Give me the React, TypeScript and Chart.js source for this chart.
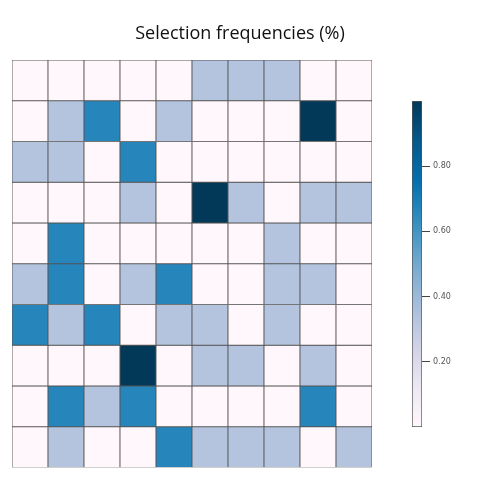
import React, { useEffect, useRef } from "react";
import { Chart, registerables } from "chart.js";

Chart.register(...registerables);

const columns = ["V1", "V2", "V3", "V4", "V5", "V6", "V7", "V8", "V9", "V10"];
const rowLabels = ["S1", "S2", "S3", "S4", "S5", "S6", "S7", "S8", "S9", "S10"];

// Selection frequencies, rows top to bottom
const row1 = [0, 0, 0, 0, 0, 1 / 3, 1 / 3, 1 / 3, 0, 0];
const row2 = [0, 1 / 3, 2 / 3, 0, 1 / 3, 0, 0, 0, 1, 0];
const row3 = [1 / 3, 1 / 3, 0, 2 / 3, 0, 0, 0, 0, 0, 0];
const row4 = [0, 0, 0, 1 / 3, 0, 1, 1 / 3, 0, 1 / 3, 1 / 3];
const row5 = [0, 2 / 3, 0, 0, 0, 0, 0, 1 / 3, 0, 0];
const row6 = [1 / 3, 2 / 3, 0, 1 / 3, 2 / 3, 0, 0, 1 / 3, 1 / 3, 0];
const row7 = [2 / 3, 1 / 3, 2 / 3, 0, 1 / 3, 1 / 3, 0, 1 / 3, 0, 0];
const row8 = [0, 0, 0, 1, 0, 1 / 3, 1 / 3, 0, 1 / 3, 0];
const row9 = [0, 2 / 3, 1 / 3, 2 / 3, 0, 0, 0, 0, 2 / 3, 0];
const row10 = [0, 1 / 3, 0, 0, 2 / 3, 1 / 3, 1 / 3, 1 / 3, 0, 1 / 3];
const rows = [row1, row2, row3, row4, row5, row6, row7, row8, row9, row10];

const colorbarTicks = [0.2, 0.4, 0.6, 0.8];
const colorbarRange = [0, 1];

const PuBu = [
  "#fff7fb", "#ece7f2", "#d0d1e6", "#a6bddb", "#74a9cf",
  "#3690c0", "#0570b0", "#045a8d", "#023858",
];

function hexToRgb(h: string) {
  const n = parseInt(h.slice(1), 16);
  return [(n >> 16) & 255, (n >> 8) & 255, n & 255];
}

function pubu(v: number) {
  const t = Math.max(0, Math.min(1, v)) * (PuBu.length - 1);
  const i = Math.min(Math.floor(t), PuBu.length - 2);
  const f = t - i;
  const a = hexToRgb(PuBu[i]);
  const b = hexToRgb(PuBu[i + 1]);
  const c = a.map((x, k) => Math.round(x + (b[k] - x) * f));
  return `rgb(${c[0]},${c[1]},${c[2]})`;
}

export default function App() {
  const mainRef = useRef<HTMLCanvasElement>(null);
  const barRef = useRef<HTMLCanvasElement>(null);

  useEffect(() => {
    const n = rows.length;
    const datasets = rows.map((r, i) => ({
      label: rowLabels[i],
      data: r.map(() => [n - 1 - i, n - i]),
      backgroundColor: r.map((v) => pubu(v)),
      borderColor: "#555",
      borderWidth: 0.8,
      borderSkipped: false as const,
      barPercentage: 1,
      categoryPercentage: 1,
      grouped: false,
    }));

    const hidden = {
      display: true,
      grid: { display: false },
      border: { display: false },
      ticks: { display: false },
    };

    const main = new Chart(mainRef.current!, {
      type: "bar",
      data: { labels: columns, datasets: datasets as any },
      options: {
        animation: false,
        responsive: false,
        devicePixelRatio: 1,
        layout: { padding: 0 },
        plugins: {
          legend: { display: false },
          tooltip: { enabled: false },
          title: {
            display: true,
            text: "Selection frequencies (%)",
            color: "#111",
            font: { family: "Open Sans", size: 18, weight: "normal" },
            padding: { top: 23, bottom: 15.4 },
          },
        },
        scales: {
          x: { ...hidden, type: "category", afterFit: (s: any) => { s.height = 12.5; } },
          y: {
            ...hidden,
            type: "linear",
            min: 0,
            max: rows.length,
            position: "left",
            afterFit: (s: any) => { s.width = 12; },
          },
          yr: {
            ...hidden,
            type: "linear",
            position: "right",
            afterFit: (s: any) => { s.width = 108; },
          },
        } as any,
      },
    });

    const bar = new Chart(barRef.current!, {
      type: "bar",
      data: {
        labels: ["scale"],
        datasets: [
          {
            data: [[colorbarRange[0], colorbarRange[1]]] as any,
            backgroundColor: (ctx: any) => {
              const area = ctx.chart.chartArea;
              if (!area) return PuBu[0];
              const g = ctx.chart.ctx.createLinearGradient(0, area.bottom, 0, area.top);
              PuBu.forEach((c, i) => g.addColorStop(i / (PuBu.length - 1), c));
              return g;
            },
            borderColor: "#555",
            borderWidth: 1,
            borderSkipped: false,
            barPercentage: 1,
            categoryPercentage: 1,
          },
        ],
      },
      options: {
        animation: false,
        responsive: false,
        devicePixelRatio: 1,
        layout: { padding: { left: 12, top: 11, bottom: 13 } },
        plugins: { legend: { display: false }, tooltip: { enabled: false } },
        scales: {
          x: { display: false },
          y: {
            type: "linear",
            position: "right",
            min: colorbarRange[0],
            max: colorbarRange[1],
            z: 1,
            afterBuildTicks: (axis: any) => {
              axis.ticks = colorbarTicks.map((v) => ({ value: v }));
            },
            afterFit: (s: any) => { s.width = 58; },
            grid: { color: "#444", lineWidth: 1, drawOnChartArea: true, tickLength: 8 },
            border: { display: false },
            ticks: {
              color: "#555",
              padding: 3,
              font: { family: "DejaVu Sans", size: 8 },
              callback: (v: any) => Number(v).toFixed(2),
            },
          },
        } as any,
      },
    });

    return () => {
      main.destroy();
      bar.destroy();
    };
  }, []);

  return (
    <div style={{ position: "absolute", left: 0, top: 0, width: 480, height: 480, background: "#fff" }}>
      <canvas ref={mainRef} width={480} height={480} style={{ position: "absolute", left: 0, top: 0 }} />
      <canvas ref={barRef} width={80} height={350} style={{ position: "absolute", left: 400, top: 90 }} />
    </div>
  );
}
